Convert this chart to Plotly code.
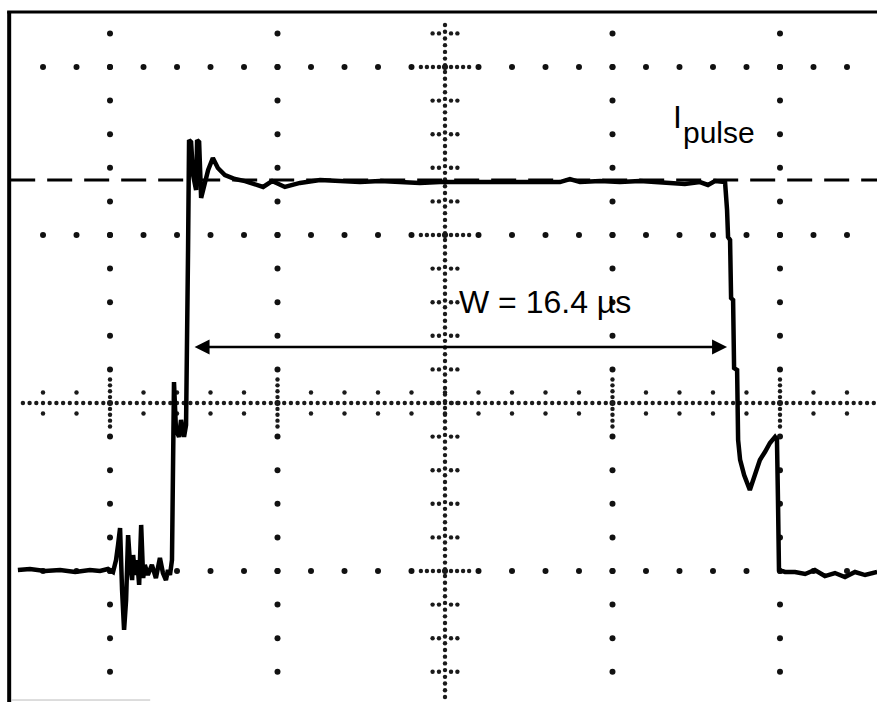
import numpy as np
import plotly.graph_objects as go

# ---------------- data (time in µs, 5 µs/div ; current in screen divisions) ----------------
t_us = [-12.75, -12.39, -11.94, -11.49, -11.04, -10.60, -10.30, -10.06, -9.91, -9.82, -9.76, -9.70,
        -9.64, -9.58, -9.52, -9.46, -9.40, -9.34, -9.31, -9.25, -9.19, -9.13, -9.07, -9.01, -8.96,
        -8.87, -8.75, -8.63, -8.51, -8.42, -8.33, -8.27, -8.21, -8.15, -8.12, -8.09, -8.03, -7.94,
        -7.88, -7.79, -7.73, -7.70, -7.67, -7.64, -7.58, -7.52, -7.43, -7.40, -7.34, -7.28, -7.19,
        -7.07, -6.93, -6.78, -6.57, -6.27, -5.97, -5.67, -5.43, -5.16, -4.78, -4.33, -3.73, -3.13,
        -2.54, -1.94, -1.34, -0.75, -0.15, 0.45, 1.04, 1.64, 2.24, 2.84, 3.43, 3.73, 4.03, 4.63,
        5.22, 5.82, 6.42, 7.16, 7.61, 7.85, 8.06, 8.27, 8.36, 8.42, 8.45, 8.51, 8.54, 8.60, 8.63,
        8.72, 8.75, 8.81, 8.93, 9.10, 9.25, 9.40, 9.55, 9.70, 9.85, 9.91, 9.94, 9.97, 10.15, 10.45,
        10.75, 11.04, 11.34, 11.64, 11.94, 12.24, 12.54, 12.90]
i_div = [-0.994, -0.988, -1.000, -0.994, -1.006, -0.994, -1.000, -0.988, -1.006, -0.935, -0.845, -0.744,
         -1.113, -1.351, -1.173, -0.786, -0.964, -1.054, -0.905, -1.024, -0.935, -1.083, -0.726, -1.042, -0.964,
         -1.024, -0.964, -1.042, -0.923, -1.012, -1.054, -0.994, -1.024, -0.935, -0.399, 0.125, -0.161, -0.202,
         -0.101, -0.202, -0.131, 0.881, 0.911, 1.565, 1.554, 1.357, 1.268, 1.565, 1.554, 1.220, 1.298,
         1.387, 1.458, 1.399, 1.357, 1.333, 1.321, 1.298, 1.286, 1.321, 1.286, 1.310, 1.327, 1.321,
         1.315, 1.321, 1.315, 1.310, 1.315, 1.315, 1.321, 1.321, 1.315, 1.321, 1.315, 1.333, 1.315, 1.321,
         1.315, 1.321, 1.315, 1.304, 1.315, 1.298, 1.321, 1.315, 1.315, 1.149, 0.988, 0.970, 0.625, 0.613, 0.208,
         0.196, -0.220, -0.339, -0.429, -0.518, -0.429, -0.339, -0.292, -0.238, -0.202, -0.220, -0.577, -0.994,
         -1.006, -1.006, -1.018, -0.994, -1.030, -1.012, -1.036, -1.006, -1.024, -1.006]

pulse_level = 1.327          # I_pulse dashed reference level
w_start, w_end = -7.52, 8.42  # pulse width markers (µs)
w_arrow_level = 0.333
w_label = "W = 16.4 µs"
pulse_label_main = "I"
pulse_label_sub = "pulse"

# ---------------- screen / graticule layout ----------------
X_RANGE = [-13.284, 12.896]
Y_RANGE = [-1.7798, 2.3988]
major_x = [-10, -5, 5, 10]
major_y = [2, 1, -1]
FONT = "Arial, Liberation Sans, sans-serif"

fig = go.Figure()

# graticule dots on major lines
gx, gy = [], []
for xv in major_x:
    for yv in np.arange(-1.6, 2.21, 0.2):
        gx.append(xv); gy.append(yv)
for yv in major_y:
    for xv in range(-12, 13):
        gx.append(xv); gy.append(yv)
fig.add_trace(go.Scatter(x=gx, y=gy, mode="markers",
                         marker=dict(size=6, color="#111", symbol="circle"),
                         hoverinfo="skip", showlegend=False))

# center crosshair (dense) with ticks
cx, cy = [], []
for xv in np.arange(-12.6, 12.9, 0.2):
    cx.append(xv); cy.append(0)
for xv in range(-12, 13):
    if xv in major_x:
        for d in np.arange(-0.14, 0.141, 0.035):
            cx.append(xv); cy.append(d)
    else:
        for d in (-0.0625, 0.0625):
            cx.append(xv); cy.append(d)
for yv in np.arange(-1.75, 2.26, 0.04):
    cx.append(0); cy.append(yv)
for k in range(-8, 12):
    yv = k * 0.2
    if any(abs(yv - m) < 1e-6 for m in major_y):
        for d in np.arange(-0.72, 0.73, 0.18):
            cx.append(d); cy.append(yv)
    else:
        for d in (-0.37, -0.18, 0.18, 0.37):
            cx.append(d); cy.append(yv)
fig.add_trace(go.Scatter(x=cx, y=cy, mode="markers",
                         marker=dict(size=4.4, color="#1a1a1a", symbol="circle"),
                         hoverinfo="skip", showlegend=False))

# I_pulse dashed level
fig.add_trace(go.Scatter(x=[-12.98, X_RANGE[1]], y=[pulse_level, pulse_level], mode="lines",
                         line=dict(color="black", width=3, dash="25px,12px"),
                         hoverinfo="skip", showlegend=False))

# waveform
fig.add_trace(go.Scatter(x=t_us, y=i_div, mode="lines",
                         line=dict(color="black", width=4.5),
                         hoverinfo="skip", showlegend=False))

# frame borders (left and top)
fig.add_shape(type="line", x0=-13.01, x1=-13.01, y0=Y_RANGE[0], y1=2.33,
              line=dict(color="black", width=4))
fig.add_shape(type="line", x0=-13.07, x1=X_RANGE[1], y0=2.327, y1=2.327,
              line=dict(color="black", width=3))
fig.add_shape(type="line", x0=-12.95, x1=-8.8, y0=-1.768, y1=-1.768,
              line=dict(color="#bbb", width=1))

# width arrow (double headed)
fig.add_annotation(x=w_end, y=w_arrow_level, ax=w_start, ay=w_arrow_level,
                   xref="x", yref="y", axref="x", ayref="y", text="",
                   showarrow=True, arrowhead=2, arrowside="end+start",
                   arrowsize=1.2, arrowwidth=2.5, arrowcolor="black")

fig.add_annotation(x=2.99, y=0.60, xref="x", yref="y", text=w_label, showarrow=False,
                   font=dict(family=FONT, size=32, color="black"), xanchor="center", yanchor="middle")
fig.add_annotation(x=6.93, y=1.70, xref="x", yref="y", text=pulse_label_main, showarrow=False,
                   font=dict(family=FONT, size=32, color="black"), xanchor="center", yanchor="middle")
fig.add_annotation(x=8.18, y=1.61, xref="x", yref="y", text=pulse_label_sub, showarrow=False,
                   font=dict(family=FONT, size=30, color="black"), xanchor="center", yanchor="middle")

fig.update_layout(width=877, height=702, autosize=False,
                  margin=dict(l=0, r=0, t=0, b=0),
                  paper_bgcolor="white", plot_bgcolor="white",
                  xaxis=dict(range=X_RANGE, visible=False, fixedrange=True),
                  yaxis=dict(range=Y_RANGE, visible=False, fixedrange=True),
                  showlegend=False)

fig.write_html("out.html")
